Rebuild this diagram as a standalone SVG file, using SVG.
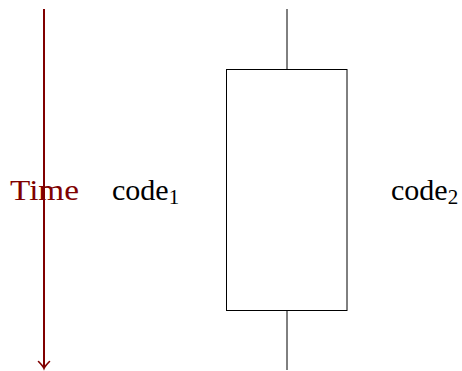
<svg xmlns="http://www.w3.org/2000/svg" width="462" height="371" viewBox="0 0 462 371">
<style>
.t{font-family:"Liberation Serif","DejaVu Serif",serif;font-size:30px;fill:#000}
.s{font-size:21px}
.box{fill:none;stroke:#000;stroke-width:1}
</style>
<rect width="462" height="371" fill="#fff"/>
<g id="connectors">
<line x1="44" y1="9" x2="44" y2="368" stroke="#800000" stroke-width="2"/>
<path d="M38.5,361.5 C41,364 43,366 44,368.5 C45,366 47,364 49.5,361.5" fill="none" stroke="#800000" stroke-width="1.6" stroke-linecap="round"/>
<line x1="287" y1="9" x2="287" y2="69" class="box"/>
<line x1="287" y1="310" x2="287" y2="370" class="box"/>
</g>
<g id="box"><rect x="226.5" y="69.5" width="120.5" height="241" class="box"/></g>
<g id="time"><text x="10" y="200" class="t" style="fill:#800000" textLength="69" lengthAdjust="spacingAndGlyphs">Time</text></g>
<g id="code1"><text x="112" y="200" class="t">code<tspan class="s" dy="4">1</tspan></text></g>
<g id="code2"><text x="391" y="200" class="t">code<tspan class="s" dy="4">2</tspan></text></g>
</svg>
